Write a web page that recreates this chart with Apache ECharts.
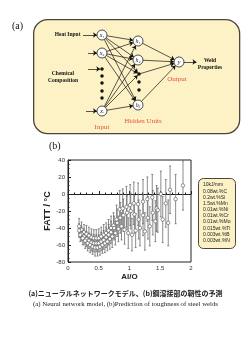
<!DOCTYPE html>
<html>
<head>
    <meta charset="utf-8">
    <title>Neural network model / FATT</title>
    <style>
        html, body { margin: 0; padding: 0; background: #fff; }
        #main { width: 251px; height: 340px; }
    </style>
    <script src="https://cdn.jsdelivr.net/npm/echarts@6/dist/echarts.min.js"></script>
</head>
<body>
<div id="main"></div>
<script type="text/javascript">
// (b) 予測値: Al/O, FATT(中心値), 誤差幅(±)
var alo = [
    // 上側の列
    0.18, 0.22, 0.26, 0.30, 0.34, 0.38, 0.42, 0.46, 0.50, 0.54, 0.58, 0.62, 0.66, 0.70, 0.74, 0.79,
    0.84, 0.89, 0.95, 1.01, 1.07, 1.14, 1.22, 1.29, 1.37, 1.44, 1.51, 1.59, 1.66, 1.75, 1.87,
    // 中央の列
    0.18, 0.22, 0.26, 0.30, 0.34, 0.38, 0.42, 0.46, 0.50, 0.54, 0.58, 0.62, 0.66, 0.70, 0.75, 0.80,
    0.85, 0.90, 0.96, 1.02, 1.08, 1.15, 1.22, 1.30, 1.38, 1.46, 1.54, 1.63,
    // 下側の列
    0.20, 0.24, 0.28, 0.32, 0.36, 0.40, 0.44, 0.48, 0.52, 0.56, 0.60, 0.64, 0.68, 0.72, 0.77, 0.82,
    0.87, 0.92, 0.98, 1.04, 1.10, 1.17, 1.25, 1.33, 1.42
];
var fatt = [
    -38, -42, -45, -47, -49, -51, -52, -52, -52, -50, -48, -46, -43, -40, -37, -30,
    -18, -17, -15, -13, -11, -12, -9, -6, -4, -17, 0, -11, 5, -6, 10,
    -43, -47, -50, -53, -55, -57, -58, -58, -58, -56, -54, -51, -48, -45, -40, -34,
    -28, -25, -22, -20, -24, -30, -25, -28, -22, -19, -30, -34,
    -48, -52, -55, -58, -60, -62, -63, -63, -62, -60, -58, -56, -53, -50, -46, -41,
    -38, -42, -46, -48, -43, -40, -44, -38, -32
];
var fattErr = [
    9, 9, 9, 10, 10, 10, 10, 10, 11, 11, 12, 12, 13, 14, 15, 17,
    22, 23, 24, 24, 25, 25, 26, 26, 27, 27, 27, 28, 28, 29, 29,
    8, 8, 9, 9, 9, 10, 10, 10, 10, 11, 11, 12, 12, 13, 14, 16,
    18, 19, 20, 21, 22, 23, 24, 25, 26, 26, 27, 27,
    8, 8, 9, 9, 9, 9, 10, 10, 10, 10, 11, 11, 12, 13, 14, 15,
    16, 17, 18, 19, 20, 21, 22, 23, 24
];
var xTicks = [0, 0.5, 1, 1.5, 2];
var yTicks = [-80, -60, -40, -20, 0, 20, 40];
var weldConditions = ['10kJ/mm', '0.08wt.%C', '0.2wt.%Si', '1.5wt.%Mn', '0.01wt.%Ni',
    '0.01wt.%Cr', '0.01wt.%Mo', '0.015wt.%Ti', '0.003wt.%B', '0.003wt.%N'];

// (a) ネットワーク図のノード (図用座標)
var netNodes = [
    {name: 'x1', text: 'x\u2081', kind: 'unit', pos: [102, 35]},
    {name: 'x2', text: 'x\u2082', kind: 'unit', pos: [102, 53]},
    {name: 'xd1', kind: 'dot', pos: [102, 69]},
    {name: 'xd2', kind: 'dot', pos: [102, 76]},
    {name: 'xd3', kind: 'dot', pos: [102, 83]},
    {name: 'xd4', kind: 'dot', pos: [102, 91]},
    {name: 'xd5', kind: 'dot', pos: [102, 98]},
    {name: 'xi', text: 'x\u1D62', kind: 'unit', pos: [102, 111]},
    {name: 'h1', text: 'h\u2081', kind: 'unit', pos: [138, 41]},
    {name: 'h2', text: 'h\u2082', kind: 'unit', pos: [138, 60]},
    {name: 'hd1', kind: 'dot', pos: [139, 74]},
    {name: 'hd2', kind: 'dot', pos: [139, 82]},
    {name: 'hd3', kind: 'dot', pos: [139, 90]},
    {name: 'hj', text: 'h\u2C7C', kind: 'unit', pos: [138, 105]},
    {name: 'y', text: 'y', kind: 'unit', pos: [179, 62]},
    {name: 'Heat Input', text: 'Heat Input', kind: 'src', pos: [83, 35]},
    {name: 's2', kind: 'src', pos: [88, 53]},
    {name: 's3', kind: 'src', pos: [88, 69]},
    {name: 's4', kind: 'src', pos: [86, 111]},
    {name: 'out', kind: 'src', pos: [197, 62]},
    {name: 'Chemical Composition', text: 'Chemical\nComposition', kind: 'note', pos: [63, 77]},
    {name: 'Weld Properties', text: 'Weld\nProperties', kind: 'note', pos: [210, 64]},
    {name: 'Input', text: 'Input', kind: 'red', pos: [102, 127]},
    {name: 'Hidden Units', text: 'Hidden Units', kind: 'red', pos: [143, 121]},
    {name: 'Output', text: 'Output', kind: 'red', pos: [177, 79]}
];
var inputUnits = ['x1', 'x2', 'xi'];
var hiddenUnits = ['h1', 'h2', 'hd1', 'hj'];

var netLinks = [
    {source: 'Heat Input', target: 'x1'},
    {source: 's2', target: 'x2'},
    {source: 's3', target: 'xd1'},
    {source: 's4', target: 'xi'},
    {source: 'y', target: 'out'}
];
inputUnits.forEach(function (a) {
    hiddenUnits.forEach(function (b) {
        netLinks.push({source: a, target: b});
    });
});
hiddenUnits.forEach(function (b) {
    netLinks.push({source: b, target: 'y'});
});

var serif = '"Liberation Serif", "DejaVu Serif", serif';
var sans = '"Liberation Sans", Arial, sans-serif';
var red = '#e5513a';

function nodeItem(n) {
    var item = {name: n.name, value: n.pos};
    if (n.kind === 'unit') {
        item.symbolSize = 10;
        item.label = {show: true, position: 'inside', formatter: n.text, fontFamily: serif,
            fontStyle: 'italic', fontSize: 6, color: '#111'};
    } else if (n.kind === 'dot') {
        item.symbolSize = 3.5;
        item.itemStyle = {color: '#111', borderWidth: 0};
        item.label = {show: false};
    } else {
        item.symbolSize = 1;
        item.itemStyle = {color: 'rgba(0,0,0,0)', borderWidth: 0};
        if (n.text) {
            var isRed = n.kind === 'red';
            item.label = {
                show: true,
                position: n.kind === 'src' ? 'left' : 'inside',
                distance: 2,
                formatter: n.text,
                fontFamily: serif,
                fontWeight: isRed ? 'normal' : 'bold',
                fontSize: isRed ? 7 : 5.5,
                lineHeight: isRed ? 8 : 7,
                color: isRed ? red : '#111',
                align: n.kind === 'src' ? 'right' : 'center'
            };
        } else {
            item.label = {show: false};
        }
    }
    return item;
}

var errData = alo.map(function (x, i) {
    return [x, fatt[i] - fattErr[i], fatt[i] + fattErr[i]];
});
var pointData = alo.map(function (x, i) {
    return [x, fatt[i]];
});

function renderErrorBar(params, api) {
    var top = api.coord([api.value(0), api.value(2)]);
    var bottom = api.coord([api.value(0), api.value(1)]);
    var style = {stroke: '#6d6d6d', lineWidth: 0.8};
    return {
        type: 'group',
        children: [
            {type: 'line', shape: {x1: top[0], y1: top[1], x2: bottom[0], y2: bottom[1]}, style: style},
            {type: 'line', shape: {x1: top[0] - 1, y1: top[1], x2: top[0] + 1, y2: top[1]}, style: style},
            {type: 'line', shape: {x1: bottom[0] - 1, y1: bottom[1], x2: bottom[0] + 1, y2: bottom[1]}, style: style}
        ]
    };
}

var myChart = echarts.init(document.getElementById('main'), null, {renderer: 'canvas'});

myChart.setOption({
    backgroundColor: '#fff',
    animation: false,
    grid: [
        {left: 68, top: 160, width: 123, height: 102, show: true, borderColor: '#222', borderWidth: 1},
        {left: 0, top: 0, width: 251, height: 340}
    ],
    xAxis: [
        {
            type: 'value', gridIndex: 0, min: 0, max: 2, interval: 0.5,
            name: 'Al/O', nameLocation: 'middle', nameGap: 11,
            nameTextStyle: {fontFamily: sans, fontWeight: 'bold', fontSize: 8, color: '#222'},
            axisLine: {show: true, lineStyle: {color: '#222', width: 1}},
            axisTick: {show: true, inside: true, length: 3, lineStyle: {color: '#222'}},
            minorTick: {show: true, splitNumber: 5, length: 1.5, lineStyle: {color: '#222'}},
            axisLabel: {fontFamily: sans, fontSize: 6, color: '#333', margin: 3,
                customValues: xTicks},
            splitLine: {show: false}
        },
        {type: 'value', gridIndex: 1, min: 0, max: 251, show: false}
    ],
    yAxis: [
        {
            type: 'value', gridIndex: 0, min: -80, max: 40, interval: 20,
            name: 'FATT / \u00B0C', nameLocation: 'middle', nameGap: 12,
            nameTextStyle: {fontFamily: sans, fontWeight: 'bold', fontSize: 9, color: '#222'},
            axisLine: {show: true, lineStyle: {color: '#222', width: 1}},
            axisTick: {show: true, inside: true, length: 3, lineStyle: {color: '#222'}},
            minorTick: {show: true, splitNumber: 4, length: 1.5, lineStyle: {color: '#222'}},
            axisLabel: {fontFamily: sans, fontSize: 6, color: '#333', margin: 3,
                customValues: yTicks},
            splitLine: {show: false}
        },
        {type: 'value', gridIndex: 1, min: 0, max: 340, inverse: true, show: false}
    ],
    graphic: [
        // (a) の背景枠
        {type: 'rect', left: 33, top: 19, z: 0, shape: {width: 206, height: 114, r: 14},
            style: {fill: '#fcf2c6', stroke: '#4b4639', lineWidth: 1.3}},
        {type: 'text', left: 12, top: 21, z: 5,
            style: {text: '(a)', font: '10px ' + serif, fill: '#111'}},
        {type: 'text', left: 49, top: 141, z: 5,
            style: {text: '(b)', font: '10px ' + serif, fill: '#111'}},
        // 溶接条件の枠
        {type: 'rect', left: 198, top: 178, z: 5, shape: {width: 37, height: 70, r: 5},
            style: {fill: '#fcf2c6', stroke: '#4b4639', lineWidth: 1}},
        {type: 'text', left: 203, top: 182, z: 6,
            style: {text: weldConditions.join('\n'), font: '5px ' + sans, lineHeight: 6.15, fill: '#222'}},
        // キャプション
        {type: 'text', left: 'center', top: 290, z: 5,
            style: {text: '(a)ニューラルネットワークモデル、(b)鋼溶接部の靭性の予測',
                font: 'bold 7px "Noto Sans CJK JP", sans-serif', fill: '#222'}},
        {type: 'text', left: 'center', top: 301, z: 5,
            style: {text: '(a) Neural network model, (b)Prediction of toughness of steel welds',
                font: '6.8px ' + serif, fill: '#222'}}
    ],
    series: [
        {
            type: 'custom',
            xAxisIndex: 0, yAxisIndex: 0,
            renderItem: renderErrorBar,
            encode: {x: 0, y: [1, 2]},
            data: errData,
            z: 2
        },
        {
            type: 'scatter',
            xAxisIndex: 0, yAxisIndex: 0,
            symbol: 'circle',
            symbolSize: 3.5,
            itemStyle: {color: '#fff', borderColor: '#666', borderWidth: 0.7, opacity: 1},
            data: pointData,
            z: 3
        },
        {
            type: 'graph',
            coordinateSystem: 'cartesian2d',
            xAxisIndex: 1, yAxisIndex: 1,
            edgeSymbol: ['none', 'arrow'],
            edgeSymbolSize: [0, 4],
            symbol: 'circle',
            itemStyle: {color: '#fff', borderColor: '#222', borderWidth: 0.8},
            lineStyle: {color: '#111', width: 0.7, opacity: 1, curveness: 0},
            emphasis: {disabled: true},
            data: netNodes.map(nodeItem),
            links: netLinks,
            z: 4
        }
    ]
});
</script>
</body>
</html>
